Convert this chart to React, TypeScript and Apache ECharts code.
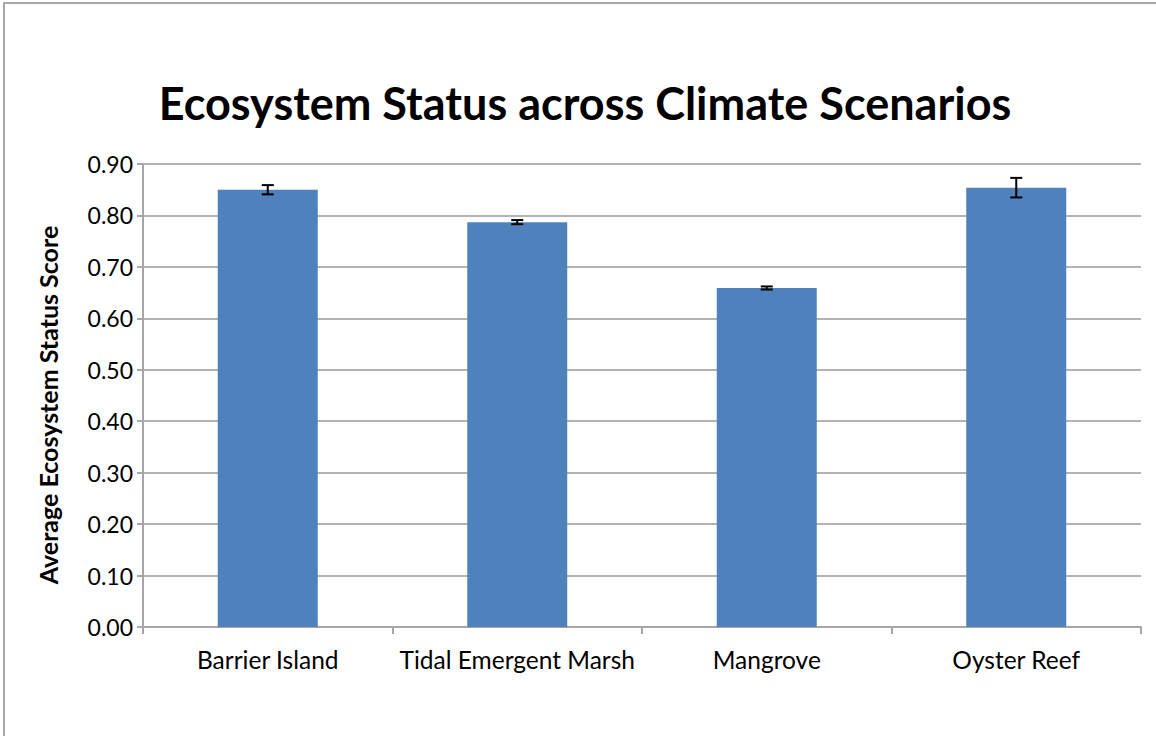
import React, { useEffect, useRef } from "react";
import * as echarts from "echarts";

const categories = ["Barrier Island", "Tidal Emergent Marsh", "Mangrove", "Oyster Reef"];
const scores = [0.85, 0.787, 0.659, 0.854];
const errors = [0.009, 0.004, 0.003, 0.019];
const yAxisTitle = "Average Ecosystem Status Score";

export default function App() {
  const ref = useRef<HTMLDivElement>(null);
  useEffect(() => {
    document.body.style.margin = "0";
    const chart = echarts.init(ref.current!, null, { renderer: "svg" });
    const errData = scores.map((v, i) => [i, v - errors[i], v + errors[i]]);
    chart.setOption({
      animation: false,
      backgroundColor: "#ffffff",
      title: {
        text: "Ecosystem Status across Climate Scenarios",
        left: 580,
        top: 75,
        textAlign: "center",
        textStyle: { fontFamily: "Lato", fontWeight: "bold", fontSize: 45, color: "#000" },
      },
      graphic: [
        {
          type: "rect",
          shape: { x: 4, y: 3, width: 1200, height: 800 },
          style: { fill: "none", stroke: "#8c8c8c", lineWidth: 1.5 },
        },
        {
          type: "text",
          x: 48,
          y: 405,
          rotation: Math.PI / 2,
          style: {
            text: yAxisTitle,
            fontFamily: "Lato",
            fontWeight: "bold",
            fontSize: 25,
            fill: "#000",
            align: "center",
            verticalAlign: "middle",
          },
        },
      ],
      grid: { left: 143, right: 15, top: 164, bottom: 109, containLabel: false },
      xAxis: {
        type: "category",
        data: categories,
        axisLine: { lineStyle: { color: "#a6a6a6", width: 2 } },
        axisTick: { show: true, length: 7, lineStyle: { color: "#a6a6a6", width: 2 } },
        axisLabel: { color: "#000", fontSize: 24.5, fontFamily: "Lato", margin: 20, interval: 0 },
      },
      yAxis: {
        type: "value",
        min: 0,
        max: 0.9,
        interval: 0.1,
        axisLine: { show: true, lineStyle: { color: "#a6a6a6", width: 2 } },
        axisTick: { show: true, length: 6, lineStyle: { color: "#a6a6a6", width: 2 } },
        axisLabel: {
          color: "#000",
          fontSize: 23,
          fontFamily: "Lato",
          margin: 10,
          formatter: (v: number) => v.toFixed(2),
        },
        splitLine: { lineStyle: { color: "#b3b3b3", width: 2 } },
      },
      series: [
        {
          type: "bar",
          data: scores,
          barWidth: 100,
          itemStyle: { color: "#4f81bd" },
        },
        {
          type: "custom",
          data: errData,
          z: 10,
          renderItem: (params: any, api: any) => {
            const x = api.value(0);
            const lo = api.coord([x, api.value(1)]);
            const hi = api.coord([x, api.value(2)]);
            const cap = 6;
            const style = { stroke: "#000", lineWidth: 2 };
            return {
              type: "group",
              children: [
                { type: "line", shape: { x1: lo[0], y1: lo[1], x2: hi[0], y2: hi[1] }, style },
                { type: "line", shape: { x1: lo[0] - cap, y1: lo[1], x2: lo[0] + cap, y2: lo[1] }, style },
                { type: "line", shape: { x1: hi[0] - cap, y1: hi[1], x2: hi[0] + cap, y2: hi[1] }, style },
              ],
            };
          },
        },
      ],
    });
    return () => chart.dispose();
  }, []);
  return <div ref={ref} style={{ width: 1156, height: 736 }} />;
}
